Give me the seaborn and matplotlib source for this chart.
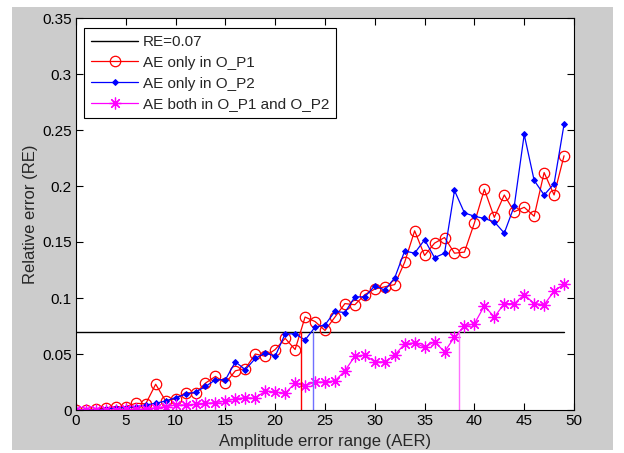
import numpy as np
import pandas as pd
import matplotlib
matplotlib.use("Agg")
import matplotlib.pyplot as plt
import seaborn as sns
from matplotlib.patches import Rectangle

# Valores
aer = list(range(50))

re_op1 = [0.0, 0.0, 0.001, 0.002, 0.003, 0.003, 0.006, 0.0055, 0.023, 0.008,
          0.010, 0.0155, 0.015, 0.024, 0.030, 0.024, 0.035, 0.037, 0.050, 0.048,
          0.054, 0.064, 0.054, 0.083, 0.079, 0.071, 0.083, 0.095, 0.094, 0.103,
          0.108, 0.110, 0.112, 0.132, 0.160, 0.138, 0.149, 0.154, 0.140, 0.141,
          0.167, 0.197, 0.172, 0.192, 0.177, 0.181, 0.173, 0.212, 0.192, 0.227]

re_op2 = [0.0, 0.0, 0.0, 0.001, 0.002, 0.002, 0.003, 0.0045, 0.006, 0.008,
          0.011, 0.014, 0.016, 0.021, 0.027, 0.027, 0.043, 0.036, 0.046, 0.051,
          0.048, 0.068, 0.068, 0.0625, 0.074, 0.076, 0.088, 0.087, 0.101, 0.101,
          0.111, 0.107, 0.118, 0.142, 0.140, 0.152, 0.136, 0.140, 0.196, 0.176,
          0.173, 0.171, 0.168, 0.158, 0.182, 0.246, 0.205, 0.192, 0.202, 0.255]

re_both = [0.0, 0.0, 0.0, 0.0, 0.0, 0.0005, 0.0005, 0.001, 0.002, 0.003,
           0.0045, 0.0045, 0.005, 0.006, 0.0065, 0.008, 0.010, 0.011, 0.0105, 0.017,
           0.016, 0.015, 0.024, 0.0215, 0.025, 0.025, 0.026, 0.035, 0.048, 0.049,
           0.043, 0.043, 0.049, 0.059, 0.060, 0.056, 0.061, 0.052, 0.065, 0.075,
           0.077, 0.093, 0.083, 0.095, 0.095, 0.103, 0.095, 0.094, 0.106, 0.1125]

limiar = 0.07
cruzamentos = [22.6, 23.8, 38.5]  # AER onde cada curva atinge RE=0.07

df = pd.DataFrame({"AER": aer, "O_P1": re_op1, "O_P2": re_op2, "Ambos": re_both})

sns.set_style("ticks")
plt.rcParams["font.family"] = ["Liberation Sans", "DejaVu Sans"]
plt.rcParams["font.size"] = 11

fig = plt.figure(figsize=(6.24, 4.53), dpi=100, facecolor="white")
# fundo cinza estilo MATLAB
fundo = Rectangle((12 / 624, 3 / 453), 601 / 624, 443 / 453,
                  transform=fig.transFigure, facecolor="#cccccc",
                  edgecolor="none", zorder=-10)
fig.patches.append(fundo)
ax = fig.add_axes([76 / 624, 1 - 410 / 453, 498 / 624, 392 / 453])
ax.set_zorder(1)
ax.set_facecolor("white")

ax.plot([0, 49], [limiar, limiar], color="black", lw=1.0, label="RE=0.07")
sns.lineplot(data=df, x="AER", y="O_P1", ax=ax, color="red", lw=0.9,
             marker="o", markersize=7.5, markerfacecolor="none",
             markeredgecolor="red", markeredgewidth=0.9, label="AE only in O_P1")
sns.lineplot(data=df, x="AER", y="O_P2", ax=ax, color="blue", lw=0.9,
             marker="D", markersize=3, markerfacecolor="blue",
             markeredgecolor="blue", label="AE only in O_P2")
sns.lineplot(data=df, x="AER", y="Ambos", ax=ax, color="magenta", lw=0.9,
             marker=(8, 2, 0), markersize=8.5, markeredgecolor="magenta",
             markeredgewidth=0.9, label="AE both in O_P1 and O_P2")

cores_v = ["red", "#7070ff", "#ff70ff"]
for xc, cor in zip(cruzamentos, cores_v):
    ax.plot([xc, xc], [0, limiar], color=cor, lw=1.0)

ax.set_xlim(0, 50)
ax.set_ylim(0, 0.35)
ax.set_xticks(np.arange(0, 51, 5))
yt = np.arange(0, 0.351, 0.05)
ax.set_yticks(yt)
ax.set_yticklabels(["0", "0.05", "0.1", "0.15", "0.2", "0.25", "0.3", "0.35"])
ax.tick_params(direction="in", top=True, right=True, length=5, width=0.8,
               labelsize=11, colors="black", pad=3)
for s in ax.spines.values():
    s.set_visible(True)
    s.set_color("black")
    s.set_linewidth(0.8)

ax.set_xlabel("Amplitude error range (AER)", fontsize=12, labelpad=4)
ax.set_ylabel("Relative error (RE)", fontsize=12, labelpad=3)

leg = ax.legend(loc="upper left", bbox_to_anchor=(8 / 498, 1 - 10 / 392),
                borderaxespad=0, fancybox=False, framealpha=1,
                edgecolor="black", fontsize=11, handlelength=3.1,
                labelspacing=0.45, borderpad=0.45, handletextpad=0.3)
leg.get_frame().set_linewidth(0.8)

plt.savefig("out.png", dpi=100, facecolor=fig.get_facecolor())
